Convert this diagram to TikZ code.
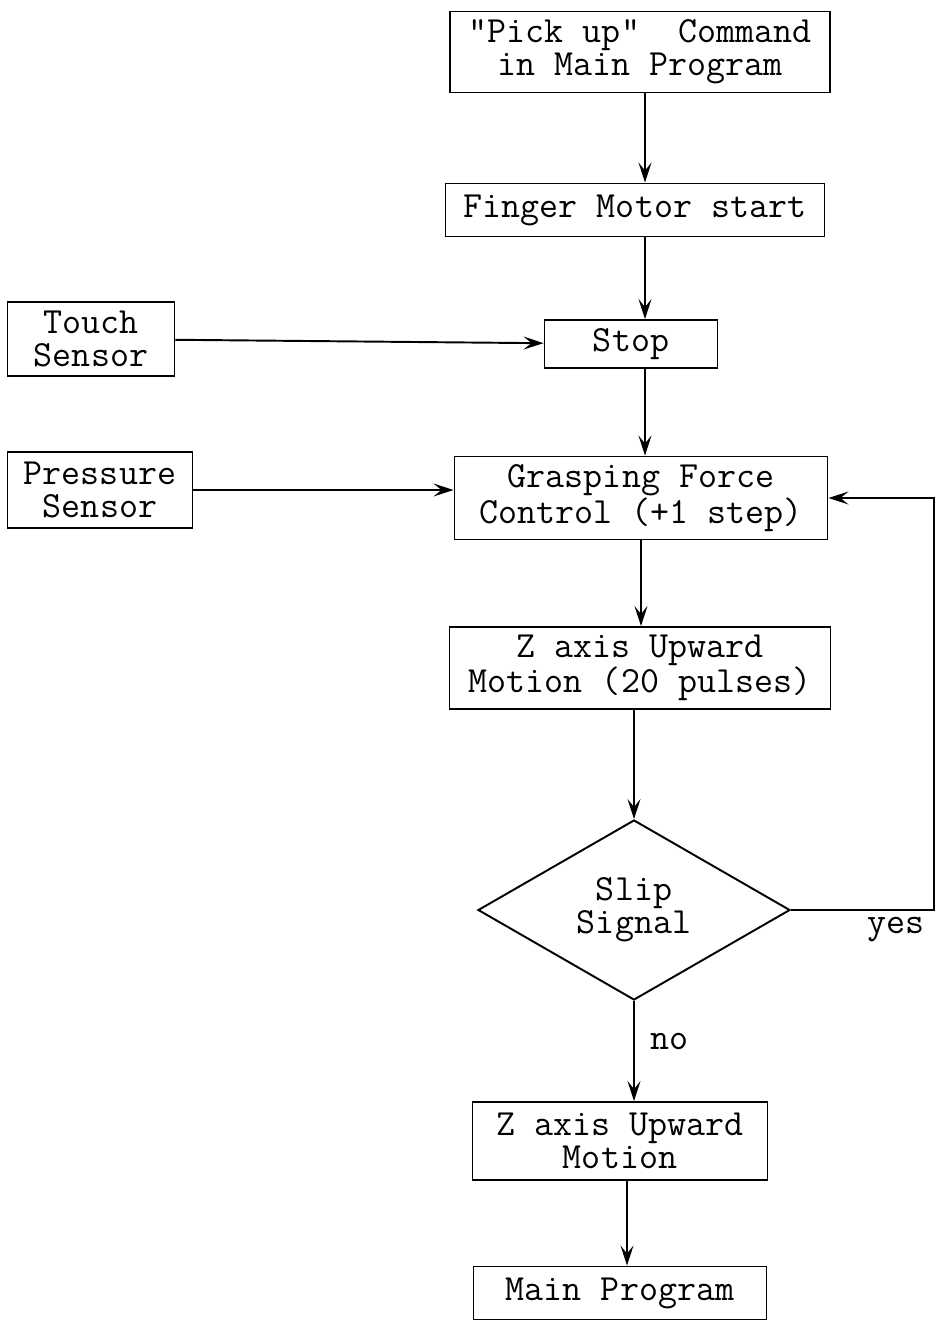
\documentclass[tikz,border=0pt]{standalone}
\usepackage{tikz}
\usetikzlibrary{arrows.meta,positioning,shapes.geometric}

\begin{document}
\begin{tikzpicture}[x=1mm,y=-1mm,
every node/.style={font=\ttfamily\fontsize{21}{19}\selectfont},
blk/.style={draw,line width=1.1pt,align=center,inner sep=0pt},
dec/.style={draw,line width=1.1pt,diamond,align=center,inner sep=0pt,
  aspect=1.73,minimum width=62.4mm,minimum height=36mm},
arr/.style={-{Stealth[length=4mm,width=2.6mm,inset=1.6mm]},line width=1.1pt}]
\useasboundingbox (0,0) rectangle (187.4,264.2);
% main column
\node[blk,minimum width=76mm,minimum height=16.2mm] (pick) at (128,10.4)
  {"Pick up"~~Command\\in Main Program};
\node[blk,minimum width=75.8mm,minimum height=10.6mm] (finger) at (127,42)
  {Finger Motor start};
\node[blk,minimum width=34.6mm,minimum height=9.6mm] (stop) at (126.2,68.8) {Stop};
\node[blk,minimum width=74.6mm,minimum height=16.6mm] (grasp) at (128.2,99.6)
  {Grasping Force\\Control (+1 step)};
\node[blk,minimum width=76.2mm,minimum height=16.4mm] (zup) at (128,133.6)
  {Z axis Upward\\Motion (20 pulses)};
\node[dec] (slip) at (126.8,182) {Slip\\Signal};
\node[blk,minimum width=59mm,minimum height=15.6mm] (zmove) at (124,228.2)
  {Z axis Upward\\Motion};
\node[blk,minimum width=58.6mm,minimum height=10.6mm] (mainp) at (124,258.6)
  {Main Program};
% sensors
\node[blk,minimum width=33.4mm,minimum height=14.8mm] (touch) at (18.2,67.8)
  {Touch\\Sensor};
\node[blk,minimum width=37mm,minimum height=15.2mm] (press) at (20,98)
  {Pressure\\Sensor};
\coordinate (colA) at (129,0);
\coordinate (colB) at (128.2,0);
\coordinate (colC) at (125.4,0);
\coordinate (edge) at (186.8,0);
% connectors
\draw[arr] (pick.south -| colA) -- (finger.north -| colA);
\draw[arr] (finger.south -| colA) -- (stop.north -| colA);
\draw[arr] (stop.south -| colA) -- (grasp.north -| colA);
\draw[arr] (grasp.south -| colB) -- (zup.north -| colB);
\draw[arr] (zup.south -| slip.north) -- (slip.north);
\draw[arr] (slip.south) -- node[right=2mm,pos=0.4]{no} (slip.south |- zmove.north);
\draw[arr] (zmove.south -| colC) -- (mainp.north -| colC);
\draw[arr] (touch) -- (stop);
\draw[arr] (press.east) -- (press.east -| grasp.west);
\draw[arr] (slip.east) -- node[pos=1,below left=0mm and 0.5mm]{yes} (slip.east -| edge)
  |- (grasp.east);
\end{tikzpicture}
\end{document}
